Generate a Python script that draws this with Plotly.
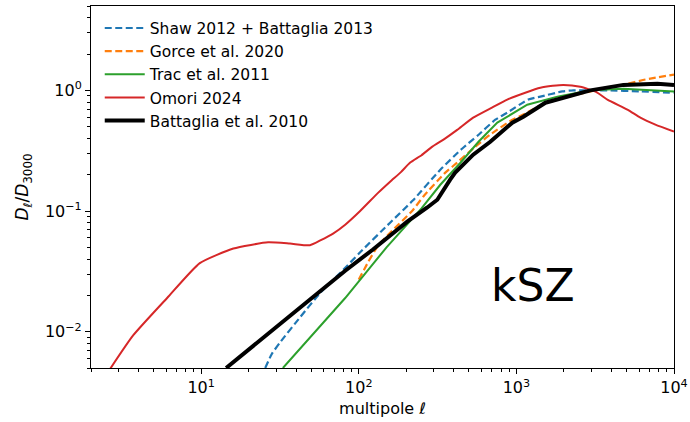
import plotly.graph_objects as go

# ---- data ----
shaw_l = [25.5, 28, 32, 42.5, 57, 80, 102, 158, 220, 329, 454, 565, 735, 875, 1190, 1419, 1960, 2296, 3780, 6120, 10000]
shaw_D = [0.005, 0.0065, 0.0083, 0.0132, 0.021, 0.0327, 0.0455, 0.08, 0.122, 0.22, 0.33, 0.42, 0.571, 0.653, 0.84, 0.887, 0.98, 1.0, 1.0, 0.98, 0.955]

gorce_l = [100, 115, 133, 158, 218, 257, 354, 421, 532, 683, 942, 1107, 1528, 1820, 2945, 4060, 4775, 6580, 10000]
gorce_D = [0.027, 0.038, 0.052, 0.066, 0.1, 0.132, 0.208, 0.252, 0.33, 0.43, 0.57, 0.63, 0.79, 0.84, 0.98, 1.07, 1.11, 1.23, 1.35]

trac_l = [33, 82, 150, 250, 329, 440, 575, 757, 1172, 1820, 2945, 4775, 10000]
trac_D = [0.005, 0.019, 0.05, 0.105, 0.165, 0.25, 0.375, 0.54, 0.76, 0.887, 1.0, 1.03, 0.98]

omori_l = [2.5, 3.7, 6.1, 9.8, 16, 26.6, 36.6, 49, 57, 68.7, 82, 102, 133, 158, 185, 212, 250, 293, 354, 421, 532, 700, 875, 1150, 1419, 1700, 1987, 2545, 3200, 3780, 5100, 6120, 7620, 10000]
omori_D = [0.0044, 0.0093, 0.0191, 0.037, 0.0489, 0.055, 0.0537, 0.052, 0.057, 0.065, 0.077, 0.1, 0.142, 0.175, 0.21, 0.252, 0.29, 0.342, 0.40, 0.47, 0.594, 0.72, 0.838, 0.96, 1.05, 1.09, 1.11, 1.07, 0.97, 0.838, 0.69, 0.594, 0.52, 0.455]

batt_l = [14.4, 82, 123, 203, 272, 315, 380, 409, 532, 683, 942, 1107, 1528, 1820, 2945, 4775, 7850, 10000]
batt_D = [0.005, 0.032, 0.048, 0.0817, 0.107, 0.124, 0.182, 0.208, 0.293, 0.375, 0.54, 0.605, 0.79, 0.838, 1.0, 1.11, 1.135, 1.11]

series = [
    ("Shaw 2012 + Battaglia 2013", shaw_l, shaw_D, "#1f77b4", 2.2, "7px,3.5px", "spline"),
    ("Gorce et al. 2020", gorce_l, gorce_D, "#ff7f0e", 2.2, "7px,3.5px", "spline"),
    ("Trac et al. 2011", trac_l, trac_D, "#2ca02c", 2.0, "solid", "linear"),
    ("Omori 2024", omori_l, omori_D, "#d62728", 2.0, "solid", "spline"),
    ("Battaglia et al. 2010", batt_l, batt_D, "black", 4.0, "solid", "linear"),
]

x_tickvals = [10, 100, 1000, 10000]
x_ticktext = ["10<sup>1</sup>", "10<sup>2</sup>", "10<sup>3</sup>", "10<sup>4</sup>"]
y_tickvals = [0.01, 0.1, 1]
y_ticktext = ["10<sup>\u22122</sup>", "10<sup>\u22121</sup>", "10<sup>0</sup>"]

x_minor = [m * 10 ** k for k in range(0, 4) for m in range(2, 10)]
y_minor = [m * 10 ** k for k in range(-3, 1) for m in range(2, 10)]

FONT = "DejaVu Sans"

fig = go.Figure()
for name, lx, ly, color, width, dash, shape in series:
    line = dict(color=color, width=width, dash=dash, shape=shape)
    if shape == "spline":
        line["smoothing"] = 0.5
    fig.add_trace(go.Scatter(x=lx, y=ly, mode="lines", name=name, line=line))

axis_common = dict(
    type="log", showgrid=False, zeroline=False, automargin=False,
    showline=True, mirror=True, linecolor="black", linewidth=1.1,
    ticks="outside", ticklen=5, tickwidth=1.1, tickcolor="black",
    tickfont=dict(family=FONT, size=16, color="black"),
)

fig.update_xaxes(**axis_common, range=[0.301, 4.0], tickmode="array",
                 tickvals=x_tickvals, ticktext=x_ticktext,
                 minor=dict(tickmode="array", tickvals=x_minor, ticks="outside", ticklen=3, tickwidth=0.9, tickcolor="black", showgrid=False),
                 title=dict(text="multipole \u2113", font=dict(family=FONT, size=16, color="black"), standoff=6))
fig.update_yaxes(**axis_common, range=[-2.301, 0.699], tickmode="array",
                 tickvals=y_tickvals, ticktext=y_ticktext,
                 minor=dict(tickmode="array", tickvals=y_minor, ticks="outside", ticklen=3, tickwidth=0.9, tickcolor="black", showgrid=False),
                 title=dict(text="<i>D</i><sub>\u2113</sub>/<i>D</i><sub>3000</sub>", font=dict(family=FONT, size=17, color="black"), standoff=11))

fig.add_annotation(x=0.758, y=0.229, xref="paper", yref="paper", text="kSZ", showarrow=False,
                   font=dict(family=FONT, size=44, color="black"), xanchor="center", yanchor="middle")

fig.update_layout(
    width=690, height=422,
    margin=dict(l=91, r=16, t=6, b=54),
    paper_bgcolor="white", plot_bgcolor="white",
    font=dict(family=FONT, size=15.5, color="black"),
    legend=dict(x=0.015, y=0.985, xanchor="left", yanchor="top", bgcolor="rgba(255,255,255,0)",
                font=dict(family=FONT, size=15.5, color="black"), itemwidth=40),
    showlegend=True,
)

fig.write_html("out.html", config={"displayModeBar": False},
               post_script="document.body.style.margin='0';document.body.style.padding='0';")
